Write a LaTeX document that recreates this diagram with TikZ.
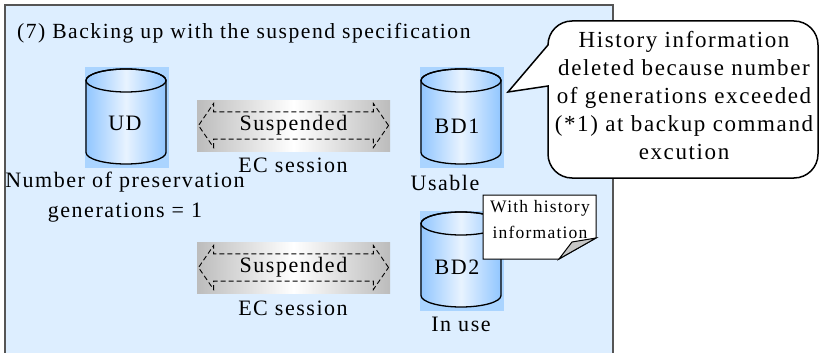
\documentclass[tikz,border=0pt]{standalone}
\usepackage{fontspec}
\setmainfont{Liberation Serif}[LetterSpace=7]
\usetikzlibrary{shapes.arrows}
\definecolor{bgblue}{RGB}{221,238,255}
\definecolor{hlblue}{RGB}{170,212,255}
\definecolor{cylblue}{RGB}{145,198,255}
\definecolor{cylpale}{RGB}{232,243,255}
\definecolor{boxgray}{RGB}{188,188,188}
\definecolor{framegray}{RGB}{85,85,85}
\begin{document}
\begin{tikzpicture}[x=1pt, y=-1pt,
  txt/.style={font=\fontsize{22}{30}\selectfont, inner sep=0pt, align=center},
  disk/.style={draw, line width=1.3pt, left color=cylblue, right color=cylblue, middle color=cylpale},
  sess/.style={minimum width=193pt, minimum height=51pt, left color=boxgray, right color=boxgray, middle color=white},
  arr/.style={double arrow, draw, dash pattern=on 5pt off 3pt, line width=0.9pt, minimum width=44pt,
    minimum height=190pt, double arrow head extend=7pt, double arrow tip angle=111, inner sep=1pt,
    font=\fontsize{22}{26}\selectfont}]
\useasboundingbox (0,0) rectangle (819,353);
\clip (0,0) rectangle (819,353);
\draw[fill=bgblue, draw=framegray, line width=1.5pt] (5,5) rectangle (613,362);
\node[txt, anchor=west, font=\fontsize{21.6}{25}\selectfont] (title) at (17,33) {(7) Backing up with the suspend specification};
% disks UD, BD1, BD2
\foreach \cx/\cy in {126/116.5, 461/116.5, 461/259.5} {
  \fill[hlblue] (\cx-41,\cy-49) rectangle (\cx+43,\cy+51);
  \path[disk] (\cx-40,\cy-36) -- (\cx-40,\cy+36) arc[start angle=180, end angle=0, x radius=40, y radius=11.5]
    -- (\cx+40,\cy-36) arc[start angle=0, end angle=-180, x radius=40, y radius=11.5] -- cycle;
  \draw[line width=1.3pt] (\cx,\cy-36) ellipse[x radius=40, y radius=11.5];
}
\node[txt] (UD) at (125,123) {UD};
\node[txt] (gen) at (125,197) {Number of preservation\\generations = 1};
\node[txt] (BD1) at (457,126) {BD1};
\node[txt] (usable) at (445,183) {Usable};
\node[txt] (BD2) at (457,267) {BD2};
\node[txt] (inuse) at (461,324) {In use};
% EC sessions
\node[sess] (S1) at (293.5,125.5) {};
\node[arr] (A1) at (S1) {Suspended};
\node[txt] (EC1) at (293,165) {EC session};
\node[sess] (S2) at (293.5,267.5) {};
\node[arr] (A2) at (S2) {Suspended};
\node[txt] (EC2) at (293,308) {EC session};
% callout
\draw[line width=1.5pt, fill=white] (508,92) -- (548,86) -- (548,154) arc[start angle=180, end angle=90, radius=24]
  -- (794,178) arc[start angle=90, end angle=0, radius=24] -- (818,45) arc[start angle=0, end angle=-90, radius=24]
  -- (572,21) arc[start angle=-90, end angle=-180, radius=24] -- cycle;
\node[txt, font=\fontsize{23}{28}\selectfont] (hist) at (684,96) {History information\\deleted because number\\of generations exceeded\\(*1) at backup command\\excution};
% note on BD2
\draw[line width=1pt, fill=white] (483,195) -- (596,195) -- (596,238) -- (559,259) -- (483,259) -- cycle;
\draw[line width=1pt, fill=gray!45] (559,259) -- (572,242) -- (596,238) -- cycle;
\node[txt, font=\fontsize{17.5}{26}\selectfont] (note) at (540,220) {With history\\information};
\end{tikzpicture}
\end{document}
